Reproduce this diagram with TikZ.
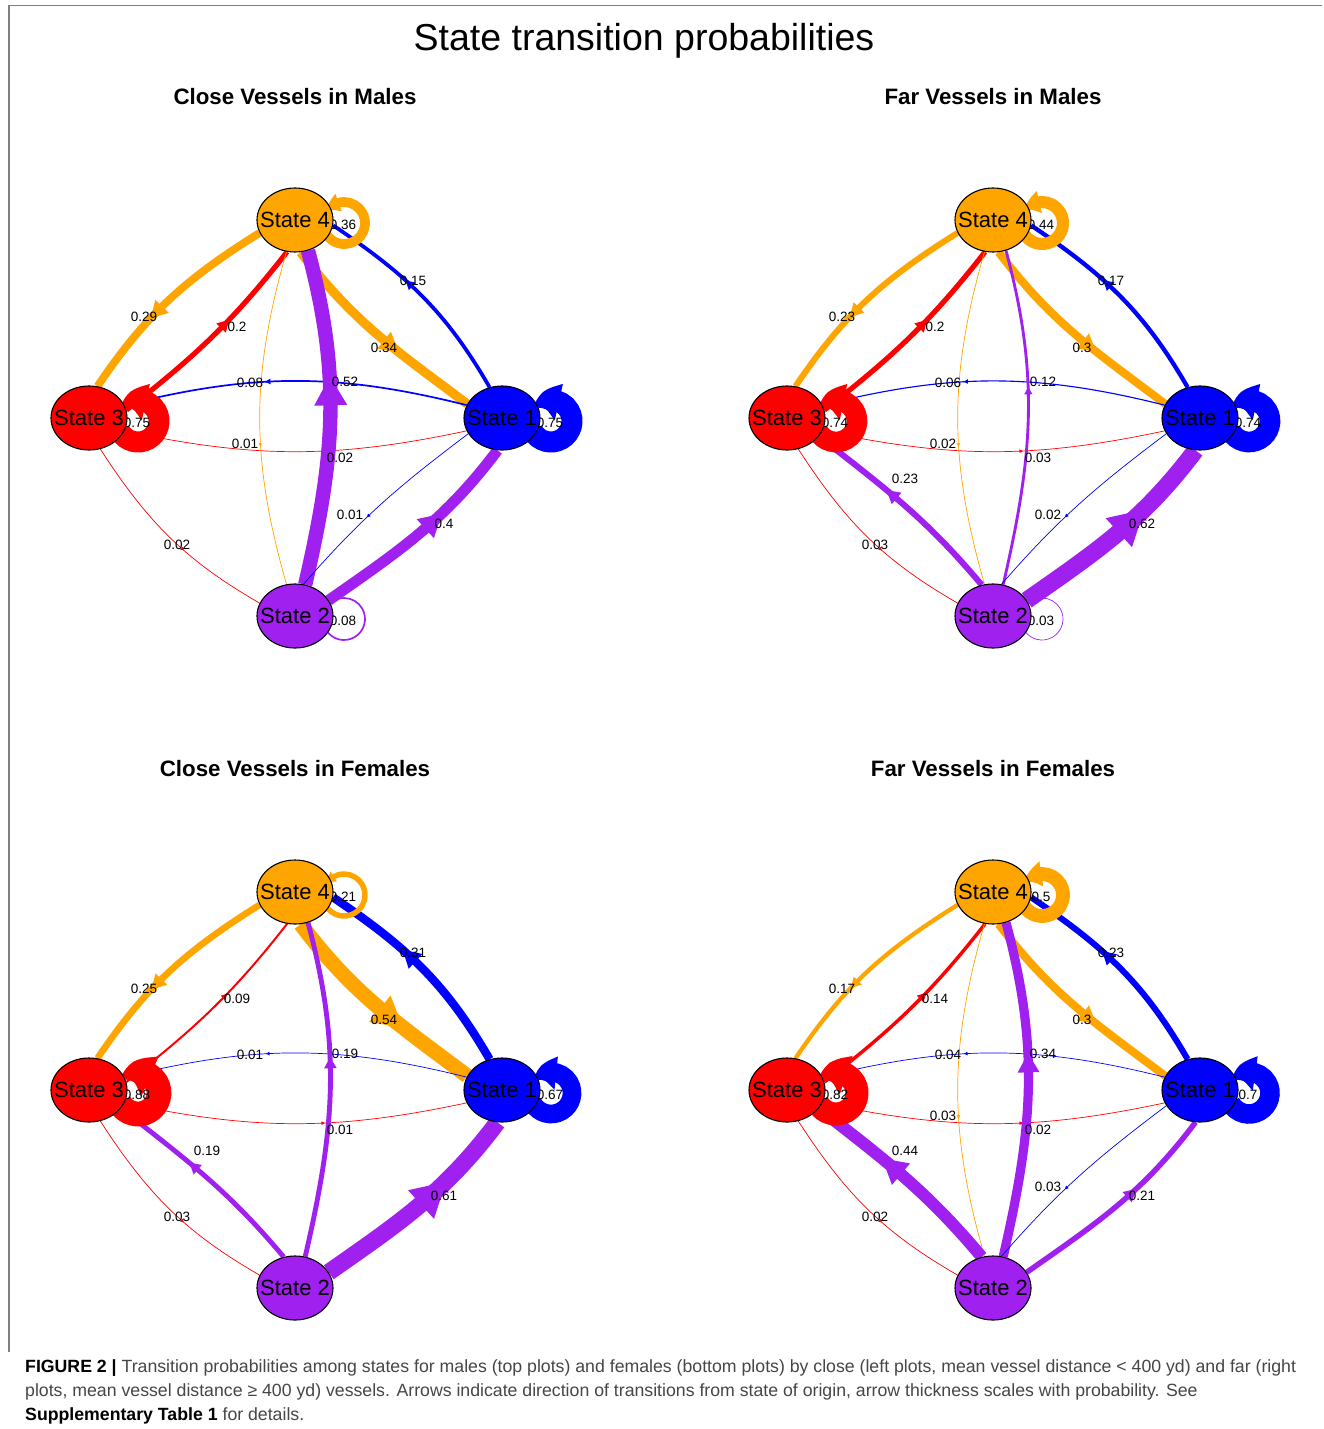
\documentclass[tikz,border=0pt]{standalone}
\usepackage{fontspec}
\setmainfont{Liberation Sans}
\usetikzlibrary{arrows.meta,bending,decorations.markings,shapes.geometric}
\definecolor{cA}{RGB}{0,0,255}
\definecolor{cB}{RGB}{160,32,240}
\definecolor{cC}{RGB}{255,0,0}
\definecolor{cD}{RGB}{255,165,0}
\definecolor{frameGray}{RGB}{128,128,128}
\definecolor{capGray}{RGB}{70,70,70}
\pgfdeclarelayer{bgfill}
\pgfdeclarelayer{edges}
\pgfdeclarelayer{labels}
\pgfsetlayers{bgfill,edges,labels,main}
\tikzset{
  stnode/.style={ellipse, draw=black, line width=1.1pt, minimum width=76pt, minimum height=64pt, inner sep=0pt, font=\fontsize{22}{22}\selectfont},
  elab/.style={font=\fontsize{13.5}{13.5}\selectfont, inner sep=0pt},
  pw/.code={\pgfmathsetmacro\trw{max(0.7,28.8*(#1)-0.6)}\tikzset{line width=\trw pt}},
  midarrow/.style={postaction={decorate}, decoration={markings, mark=at position 0.58 with {\pgftransformshift{\pgfpoint{0.95\pgflinewidth+1pt}{0pt}}\arrow{Triangle[length=2pt 1.9,width=2pt 2]}}}},
  trans/.style={draw, midarrow},
  looptip/.style={-{Triangle[length=3pt 1.2,width=3pt 1.5,bend]}},
  subt/.style={font=\bfseries\fontsize{22.3}{22.3}\selectfont, anchor=base},
  captxt/.style={anchor=base west, inner sep=0pt, font=\fontsize{17.7}{17.7}\selectfont, text=capGray},
}
% generic edge: prefix, colour, prob, from, to, to-options, label position, label name
\newcommand\trEdge[8]{%
  \begin{pgfonlayer}{edges}\draw[trans, #2, pw=#3] (#1#4) to[#6] (#1#5);\end{pgfonlayer}
  \begin{pgfonlayer}{labels}\node[elab] (#1#8) at (#7) {#3};\end{pgfonlayer}}
\newcommand\trDC[2]{\trEdge{#1}{cD}{#2}{s4.200}{s3.75}{out=212,in=56}{144,-317}{l43}}
\newcommand\trCD[2]{\trEdge{#1}{cC}{#2}{s3.12}{s4.256}{out=38,in=232}{237,-327}{l34}}
\newcommand\trAD[2]{\trEdge{#1}{cA}{#2}{s1.112}{s4.352}{out=120,in=326}{413,-281}{l14}}
\newcommand\trDA[2]{\trEdge{#1}{cD}{#2}{s4.280}{s1.158}{out=307,in=143}{384,-348}{l41}}
\newcommand\trAC[2]{\trEdge{#1}{cA}{#2}{s1.160}{s3.20}{out=166,in=14}{250,-383}{l13}}
\newcommand\trCA[2]{\trEdge{#1}{cC}{#2}{s3.340}{s1.200}{out=348,in=192}{340,-458}{l31}}
\newcommand\trBD[2]{\trEdge{#1}{cB}{#2}{s2.72}{s4.293}{out=77,in=285}{345,-382}{l24}}
\newcommand\trDB[2]{\trEdge{#1}{cD}{#2}{s4.255}{s2.105}{out=254,in=106}{245,-444}{l42}}
\newcommand\trBA[2]{\trEdge{#1}{cB}{#2}{s2.25}{s1.262}{out=35,in=233}{444,-524}{l21}}
\newcommand\trAB[2]{\trEdge{#1}{cA}{#2}{s1.205}{s2.75}{out=217,in=49}{350,-515}{l12}}
\newcommand\trCB[2]{\trEdge{#1}{cC}{#2}{s3.290}{s2.160}{out=303,in=150}{177,-545}{l32}}
\newcommand\trBC[2]{\trEdge{#1}{cB}{#2}{s2.110}{s3.330}{out=130,in=322}{207,-479}{l23}}
% self loop: prefix, state, colour, prob
\newcommand\trLoop[4]{%
  \begin{pgfonlayer}{edges}\draw[#3, pw=#4, looptip] ([shift={(30.81,-13.5)}]#1s#2.center) arc[start angle=-150, end angle=145, radius=21];\end{pgfonlayer}
  \begin{pgfonlayer}{labels}\node[elab] (#1p#2) at ([shift={(48,-4.5)}]#1s#2.center) {#4};\end{pgfonlayer}}
\newcommand\trNodes[1]{%
  \node[stnode, fill=cD] (#1s4) at (295,-220) {\makebox[0pt]{State 4}};
  \node[stnode, fill=cC] (#1s3) at (89,-418) {\makebox[0pt]{State 3}};
  \node[stnode, fill=cA] (#1s1) at (502,-418) {\makebox[0pt]{State 1}};
  \node[stnode, fill=cB] (#1s2) at (295,-616) {\makebox[0pt]{State 2}};}
\begin{document}
\begin{tikzpicture}[x=1pt,y=1pt]
\useasboundingbox (0,0) rectangle (1323,-1429);
\begin{pgfonlayer}{bgfill}\fill[white] (0,0) rectangle (1323,-1429);\end{pgfonlayer}
\draw[frameGray, line width=1.8pt] (9,-1352) -- (9,-5.5) -- (1322,-5.5);
\node[font=\fontsize{37.5}{37.5}\selectfont, anchor=base] (title) at (644,-51) {State transition probabilities};
\node[subt] (t1) at (295,-104) {Close Vessels in Males};
\node[subt] (t2) at (993,-104) {Far Vessels in Males};
\node[subt] (t3) at (295,-776) {Close Vessels in Females};
\node[subt] (t4) at (993,-776) {Far Vessels in Females};
% Panel 1: close, males
\begin{scope}
\trNodes{a}
\trDC{a}{0.29}\trCD{a}{0.2}\trAD{a}{0.15}\trDA{a}{0.34}
\trAC{a}{0.08}\trCA{a}{0.02}\trBD{a}{0.52}\trDB{a}{0.01}
\trBA{a}{0.4}\trAB{a}{0.01}\trCB{a}{0.02}
\trLoop{a}{4}{cD}{0.36}\trLoop{a}{3}{cC}{0.75}\trLoop{a}{1}{cA}{0.75}\trLoop{a}{2}{cB}{0.08}
\end{scope}
% Panel 2: far, males
\begin{scope}[shift={(698,0)}]
\trNodes{b}
\trDC{b}{0.23}\trCD{b}{0.2}\trAD{b}{0.17}\trDA{b}{0.3}
\trAC{b}{0.06}\trCA{b}{0.03}\trBD{b}{0.12}\trDB{b}{0.02}
\trBA{b}{0.62}\trAB{b}{0.02}\trCB{b}{0.03}\trBC{b}{0.23}
\trLoop{b}{4}{cD}{0.44}\trLoop{b}{3}{cC}{0.74}\trLoop{b}{1}{cA}{0.74}\trLoop{b}{2}{cB}{0.03}
\end{scope}
% Panel 3: close, females
\begin{scope}[shift={(0,-672)}]
\trNodes{c}
\trDC{c}{0.25}\trCD{c}{0.09}\trAD{c}{0.31}\trDA{c}{0.54}
\trAC{c}{0.01}\trCA{c}{0.01}\trBD{c}{0.19}
\trBA{c}{0.61}\trCB{c}{0.03}\trBC{c}{0.19}
\trLoop{c}{4}{cD}{0.21}\trLoop{c}{3}{cC}{0.88}\trLoop{c}{1}{cA}{0.67}
\end{scope}
% Panel 4: far, females
\begin{scope}[shift={(698,-672)}]
\trNodes{d}
\trDC{d}{0.17}\trCD{d}{0.14}\trAD{d}{0.23}\trDA{d}{0.3}
\trAC{d}{0.04}\trCA{d}{0.02}\trBD{d}{0.34}\trDB{d}{0.03}
\trBA{d}{0.21}\trAB{d}{0.03}\trCB{d}{0.02}\trBC{d}{0.44}
\trLoop{d}{4}{cD}{0.5}\trLoop{d}{3}{cC}{0.82}\trLoop{d}{1}{cA}{0.7}
\end{scope}
% caption
\node[captxt] (cap1) at (25,-1372) {\textcolor{black}{\bfseries FIGURE 2 |} Transition probabilities among states for males (top plots) and females (bottom plots) by close (left plots, mean vessel distance < 400 yd) and far (right};
\node[captxt] (cap2) at (25,-1396) {plots, mean vessel distance ≥ 400 yd) vessels. Arrows indicate direction of transitions from state of origin, arrow thickness scales with probability. See};
\node[captxt] (cap3) at (25,-1420) {\textcolor{black}{\bfseries Supplementary Table 1} for details.};
\end{tikzpicture}
\end{document}
